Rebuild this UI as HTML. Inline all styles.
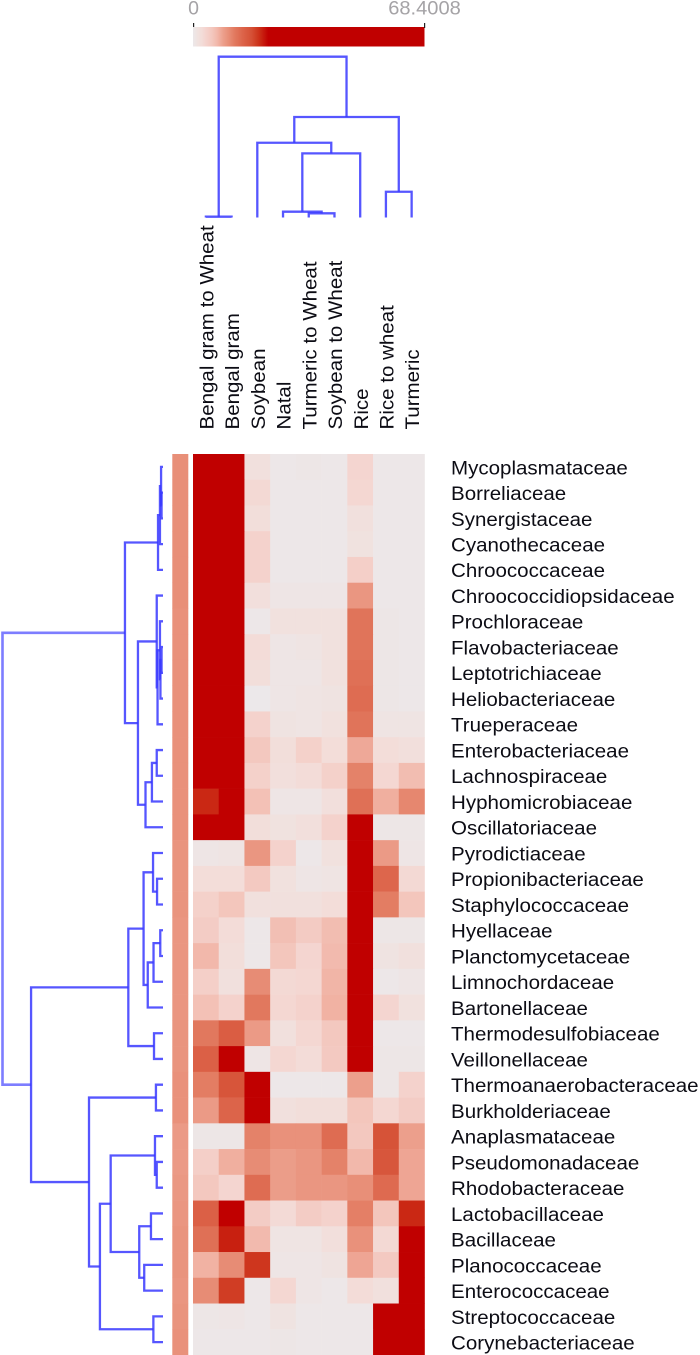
<!DOCTYPE html>
<html lang="en">
<head>
<meta charset="utf-8">
<title>Heatmap with dendrograms</title>
<style>
html,body{margin:0;padding:0;background:#fff;width:700px;height:1355px;overflow:hidden}
svg{display:block}
text{font-family:"Liberation Sans",sans-serif}
.row-label,.col-label{font-size:19.4px;fill:#0c0c14}
.bar-label{font-size:19.5px;fill:#a5a3a6}
</style>
</head>
<body>
<svg id="chart" xmlns="http://www.w3.org/2000/svg" width="700" height="1355" viewBox="0 0 700 1355">
<defs>
<linearGradient id="scale-gradient" x1="0" x2="1" y1="0" y2="0"></linearGradient>
</defs>
<g id="colorbar">
<rect id="colorbar-rect" x="193" y="27" width="231.5" height="19.5" fill="url(#scale-gradient)"></rect>
<rect x="193" y="23" width="1.2" height="4" fill="#222"></rect>
<rect x="424" y="23" width="1.2" height="5" fill="#222"></rect>
<text class="bar-label" x="193.5" y="14.5" text-anchor="middle">0</text>
<text class="bar-label" x="424.5" y="14.5" text-anchor="middle" transform="translate(424.5 0) scale(1.03 1) translate(-424.5 0)">68.4008</text>
</g>
<g id="top-dendrogram"></g>
<g id="left-dendrogram"></g>
<g id="annotation"></g>
<g id="cells"></g>
<g id="col-labels"></g>
<g id="row-labels"></g>
</svg>
<script>
// Categories
const columns = ["Bengal gram to Wheat","Bengal gram","Soybean","Natal","Turmeric to Wheat","Soybean to Wheat","Rice","Rice to wheat","Turmeric"];
const rows = ["Mycoplasmataceae","Borreliaceae","Synergistaceae","Cyanothecaceae","Chroococcaceae","Chroococcidiopsidaceae","Prochloraceae","Flavobacteriaceae","Leptotrichiaceae","Heliobacteriaceae","Trueperaceae","Enterobacteriaceae","Lachnospiraceae","Hyphomicrobiaceae","Oscillatoriaceae","Pyrodictiaceae","Propionibacteriaceae","Staphylococcaceae","Hyellaceae","Planctomycetaceae","Limnochordaceae","Bartonellaceae","Thermodesulfobiaceae","Veillonellaceae","Thermoanaerobacteraceae","Burkholderiaceae","Anaplasmataceae","Pseudomonadaceae","Rhodobacteraceae","Lactobacillaceae","Bacillaceae","Planococcaceae","Enterococcaceae","Streptococcaceae","Corynebacteriaceae"];

// Cell values, estimated from colour, as % of the colour saturation point (100 = full red)
const matrix = [
[100,100,8,1,2,1,16,1,1],
[100,100,14,1,1,1,15,1,1],
[100,100,10,1,1,1,8,1,1],
[100,100,18,1,1,1,6,1,1],
[100,100,18,1,1,1,20,1,1],
[100,100,9,3,3,3,44,1,1],
[100,100,1,7,7,7,58,2,1],
[100,100,12,3,4,7,58,2,1],
[100,100,10,3,3,7,60,2,1],
[100,100,0,3,4,5,62,2,1],
[100,100,18,5,4,7,58,4,4],
[100,100,25,10,19,11,37,11,9],
[100,100,19,9,12,19,52,15,30],
[90,100,28,3,3,9,60,35,50],
[100,100,10,6,9,18,100,2,2],
[3,4,44,18,1,7,100,42,3],
[11,11,24,7,3,4,100,65,14],
[19,26,8,8,8,11,100,54,26],
[22,12,1,29,23,30,100,2,2],
[32,10,1,26,16,31,100,5,8],
[20,8,48,14,15,33,100,1,3],
[28,18,56,15,18,34,100,16,7],
[56,70,42,8,15,25,100,1,1],
[68,100,3,15,12,24,100,2,2],
[54,75,100,1,1,1,40,2,18],
[42,66,100,8,10,10,26,15,22],
[2,2,52,46,46,62,25,76,40],
[20,35,48,41,44,52,32,74,38],
[25,16,62,41,44,44,47,63,38],
[68,100,22,13,22,18,53,26,90],
[60,92,31,4,4,9,46,14,100],
[34,48,86,3,3,5,38,24,100],
[48,84,1,15,3,1,12,8,100],
[2,3,1,5,1,1,1,100,100],
[1,1,1,2,1,1,1,100,100]
];

// Row annotation strip values (same scale)
const annotationValues = [47,47,47,47,47,47,46,46,46,46,46,46,46,46,46,45,45,45,44,44,44,44,45,45,46,46,42,42,43,44,45,45,44,45,46];

// Dendrogram merges: [distance, childA, childB]; a plain number is a leaf index
const columnTree = [100,[0.5,0,1],[62.5,[46.5,2,[39.9,[3.6,3,[2.6,4,5]],6]],[16,7,8]]];
const rowTree = [100,
  [23.7,
    [3.1,[1.9,[1.2,0,[0.9,1,2]],3],4],
    [15.6,
      [3.9,5,[3.4,[1.9,6,[1.6,[0.9,7,8],9]],10]],
      [10.9,[6.9,[3.9,11,12],13],14]
    ]
  ],
  [82.2,
    [21.6,
      [12.1,
        [6.2,15,[3.7,16,17]],
        [9.5,[5.9,[1.7,18,19],20],21]
      ],
      [5.6,22,23]
    ],
    [46.1,
      [4.4,24,25],
      [39.3,
        [32.6,
          [5,26,[3.9,27,28]],
          [14.8,[7.5,29,30],[11.7,31,32]]
        ],
        [6,33,34]
      ]
    ]
  ]
];

// Colour scale stops: [position 0-100, colour]
const scaleStops = [[0,"#ece8ea"],[6,"#f0e2df"],[12,"#f3dcd8"],[18,"#f4d2cc"],[25,"#f3c8bf"],[32,"#f2b8ab"],[40,"#ec9f8c"],[47,"#e88f78"],[55,"#e27a60"],[68,"#db6046"],[78,"#d55035"],[88,"#cc3018"],[100,"#c00000"]];
const saturationFraction = 0.325;

// Layout and axis functions
const NS = "http://www.w3.org/2000/svg";
const plot = {left:193, top:454, cellW:231.5/9, cellH:901/35};
const colX = i => plot.left + i * plot.cellW;
const rowY = i => plot.top + i * plot.cellH;
const colCenter = i => colX(i) + plot.cellW / 2;
const rowCenter = i => rowY(i) + plot.cellH / 2;
const topHeight = d => 217.5 - d * 1.608;
const leftDepth = d => 163 - d * 1.605;

function hex(c){return [1,3,5].map(i => parseInt(c.substr(i,2),16));}
function colorFor(v){
  const t = Math.max(0, Math.min(100, v));
  for (let i = 1; i < scaleStops.length; i++) {
    if (t <= scaleStops[i][0]) {
      const a = scaleStops[i-1], b = scaleStops[i];
      const f = (t - a[0]) / (b[0] - a[0]);
      const ca = hex(a[1]), cb = hex(b[1]);
      return "rgb(" + ca.map((x,k) => Math.round(x + (cb[k]-x)*f)).join(",") + ")";
    }
  }
  return scaleStops[scaleStops.length-1][1];
}
function make(tag, attrs, parent){
  const el = document.createElementNS(NS, tag);
  for (const k in attrs) el.setAttribute(k, attrs[k]);
  parent.appendChild(el);
  return el;
}

// Colour bar gradient
const gradient = document.getElementById("scale-gradient");
scaleStops.forEach(s => {
  make("stop", {offset: (s[0] * saturationFraction) + "%", "stop-color": s[1]}, gradient);
});
make("stop", {offset: "100%", "stop-color": "#c00000"}, gradient);

// Heatmap cells
const cellsG = document.getElementById("cells");
matrix.forEach((vals, r) => {
  vals.forEach((v, c) => {
    const rect = make("rect", {x: colX(c), y: rowY(r), width: plot.cellW + 0.3, height: plot.cellH + 0.3, fill: colorFor(v)}, cellsG);
    
    
  });
});

// Annotation strip
const annG = document.getElementById("annotation");
annotationValues.forEach((v, r) => {
  const rect = make("rect", {x: 172.3, y: rowY(r), width: 16, height: plot.cellH + 0.3, fill: colorFor(v)}, annG);
  
  
});

// Row labels
const rowG = document.getElementById("row-labels");
rows.forEach((name, r) => {
  const y = rowCenter(r) + 7.4;
  const t = make("text", {"class": "row-label", transform: "translate(451 " + y + ") scale(1.058 1)"}, rowG);
  t.textContent = name;
  
  
});

// Column labels
const colG = document.getElementById("col-labels");
columns.forEach((name, c) => {
  const x = colCenter(c) + 7.6;
  const t = make("text", {"class": "col-label", transform: "translate(" + x + " 429.5) rotate(-90) scale(1.058 1)"}, colG);
  t.textContent = name;
  
  
});

// Dendrograms
function drawTree(node, group, orient, depth){
  const pos = orient === "top" ? colCenter : rowCenter;
  const scale = orient === "top" ? topHeight : leftDepth;
  if (typeof node === "number") return {p: pos(node), h: scale(0)};
  const a = drawTree(node[1], group, orient, depth + 1);
  const b = drawTree(node[2], group, orient, depth + 1);
  const h = scale(node[0]);
  const d = orient === "top"
    ? "M" + a.p + " " + a.h + "V" + h + "H" + b.p + "V" + b.h
    : "M" + a.h + " " + a.p + "H" + h + "V" + b.p + "H" + b.h;
  const isLeftRoot = depth === 0 && orient === "left";
  const path = make("path", {d: d, fill: "none", stroke: "#3838ff", "stroke-width": isLeftRoot ? 2.6 : 2.3, "stroke-opacity": isLeftRoot ? 0.65 : 0.85}, group);
  
  
  return {p: (a.p + b.p) / 2, h: h};
}
drawTree(columnTree, document.getElementById("top-dendrogram"), "top", 0);
drawTree(rowTree, document.getElementById("left-dendrogram"), "left", 0);
</script>
</body>
</html>
